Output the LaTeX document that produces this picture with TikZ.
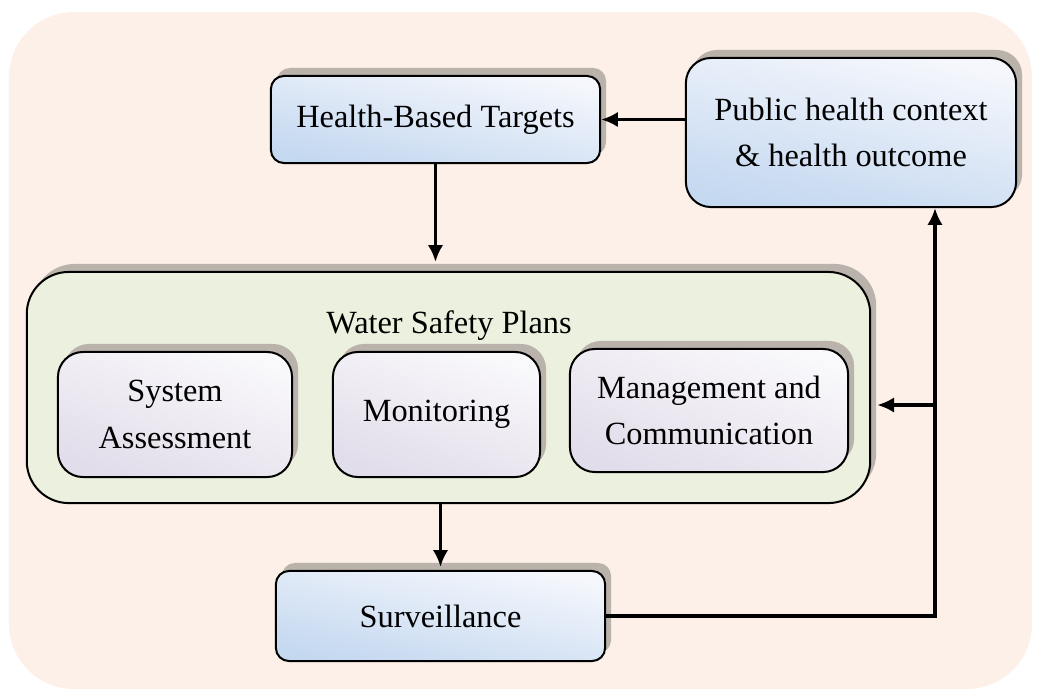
\documentclass[tikz,border=0pt]{standalone}
\usepackage{fontspec}
\setmainfont{Liberation Serif}
\usetikzlibrary{shadows,arrows.meta}
\definecolor{bgpeach}{HTML}{FCF0E8}
\definecolor{boxblue}{HTML}{C4D8F0}
\definecolor{boxwhite}{HTML}{F5F7FC}
\definecolor{wspgreen}{HTML}{EBF1DE}
\definecolor{steplav}{HTML}{E2DDEA}
\definecolor{stepwhite}{HTML}{F9F8FB}
\definecolor{shadowgray}{HTML}{BAB3AC}
\tikzset{
  card/.style={draw=black, line width=0.57pt, align=center, inner sep=0pt,
    drop shadow={shadow xshift=0.06cm, shadow yshift=0.08cm, fill=shadowgray, opacity=1}},
  bluecard/.style={card, top color=boxwhite, bottom color=boxblue, shading angle=-12},
  lavcard/.style={card, top color=stepwhite, bottom color=steplav, shading angle=-20,
    minimum height=1.25cm, rounded corners=0.25cm},
  flow/.style={line width=1.05pt, -{Latex[length=4.8pt,width=4.4pt]}}
}
\begin{document}
\begin{tikzpicture}[x=0.01cm, y=-0.01cm, font=\fontsize{9.2}{13.2}\selectfont]
  \useasboundingbox (0,0) rectangle (1038,693);
  \path[fill=bgpeach, rounded corners=0.65cm] (9,12) rectangle (1032,689);

  \node[bluecard, minimum width=3.29cm, minimum height=0.87cm, rounded corners=0.13cm] (hbt) at (435.5,119.5) {Health-Based Targets};
  \node[bluecard, minimum width=3.30cm, minimum height=1.49cm, rounded corners=0.25cm] (pub) at (851,132.5) {Public health context\\\& health outcome};
  \node[card, fill=wspgreen, minimum width=8.43cm, minimum height=2.31cm, rounded corners=0.42cm] (wsp) at (448.5,387.5) {};
  \node (wsptitle) at (449,326) {Water Safety Plans};
  \node[lavcard, minimum width=2.34cm] (sa) at (175,414.5) {System\\Assessment};
  \node[lavcard, minimum width=2.07cm] (mon) at (436.5,414.5) {Monitoring};
  \node[lavcard, minimum width=2.78cm, minimum height=1.23cm] (mc) at (709,410.5) {Management and\\Communication};
  \node[bluecard, minimum width=3.29cm, minimum height=0.90cm, rounded corners=0.13cm] (sur) at (440.5,616) {Surveillance};
  \coordinate (jn) at (935,405);

  \draw[flow, shorten >=0.09cm] (hbt.south) -- (hbt.south |- wsp.north);
  \draw[flow] (hbt.east -| pub.west) -- (hbt.east);
  \draw[flow, shorten >=0.03cm] (wsp.south -| sur.north) -- (sur.north);
  \draw[flow] (sur.east) -| (jn |- pub.south);
  \draw[flow, shorten >=0.06cm] (jn) -- (jn -| wsp.east);
\end{tikzpicture}
\end{document}
